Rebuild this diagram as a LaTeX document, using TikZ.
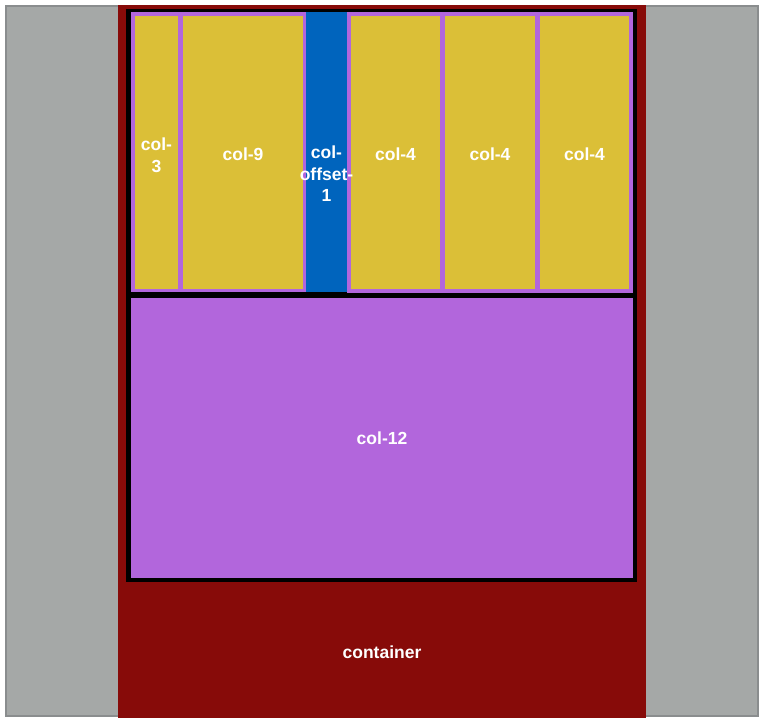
\documentclass[tikz,border=0pt]{standalone}
\usepackage{fontspec}
\setmainfont{Liberation Sans}
\usetikzlibrary{positioning}
\definecolor{pagegray}{HTML}{A5A8A7}
\definecolor{edgegray}{HTML}{8A8D8E}
\definecolor{boxred}{HTML}{870B09}
\definecolor{colyellow}{HTML}{DBBF37}
\definecolor{colpurple}{HTML}{B266DC}
\definecolor{colblue}{HTML}{0064BD}

\begin{document}
\begin{tikzpicture}[x=1pt, y=-1pt,
    cell/.style={anchor=north west, inner sep=0pt, outer sep=0pt},
    lbl/.style={text=white, font=\bfseries\fontsize{17.5}{21.5}\selectfont, align=center},
    toplbl/.style={lbl, text height=16.5pt}]
    \useasboundingbox (0,0) rectangle (765,722);
    % page and container
    \node[cell, fill=pagegray, draw=edgegray, line width=2pt, minimum width=752pt, minimum height=710pt] (page) at (6,6) {};
    \node[cell, fill=boxred, minimum width=528pt, minimum height=713pt] (container) at (118,5) {};
    % rows
    \node[cell, fill=black, minimum width=511pt, minimum height=287pt] (row1) at (126,9) {};
    \node[cell, fill=black, minimum width=511pt, minimum height=289pt] (row2) at (126,293) {};
    % first row
    \node[cell, fill=colpurple, minimum width=49pt, minimum height=280pt] (c3out) at (131,12) {};
    \node[cell, fill=colyellow, minimum width=43pt, minimum height=273pt] (c3) at (135,16) {};
    \node[cell, fill=colpurple, minimum width=126pt, minimum height=280pt] (c9out) at (180,12) {};
    \node[cell, fill=colyellow, minimum width=120pt, minimum height=273pt, toplbl] (c9) at (183,16) {col-9};
    \node[cell, fill=colblue, minimum width=41pt, minimum height=280pt] (offset) at (306,12) {};
    \node[cell, fill=colpurple, minimum width=286pt, minimum height=281pt] (nest) at (347,12) {};
    \node[cell, fill=colyellow, minimum width=89pt, minimum height=273pt, toplbl] (c4a) at (351,16) {col-4};
    \node[cell, fill=colyellow, minimum width=90pt, minimum height=273pt, toplbl] (c4b) at (445,16) {col-4};
    \node[cell, fill=colyellow, minimum width=89pt, minimum height=273pt, toplbl] (c4c) at (540,16) {col-4};
    \node[lbl] (c3lbl) at (156.5,155.5) {col-\\3};
    \node[lbl] (offlbl) at (326.5,174) {col-\\offset-\\1};
    % second row
    \node[cell, fill=colpurple, minimum width=502pt, minimum height=280pt, lbl] (c12) at (131,298) {col-12};
    \node[lbl] (contlbl) at (382,652) {container};
\end{tikzpicture}
\end{document}
